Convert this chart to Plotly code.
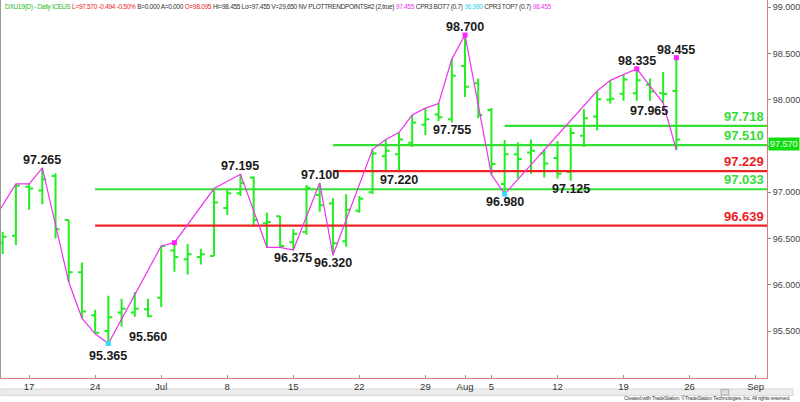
import plotly.graph_objects as go
import pandas as pd

# ---------------- data ----------------
axis_days = [d.strftime("%Y-%m-%d") for d in pd.bdate_range("2019-06-12", "2019-09-03")]
bar_dates = [d.strftime("%Y-%m-%d") for d in pd.bdate_range("2019-06-13", "2019-08-23")]

opens = [96.455, 96.53, 97.06, 97.02, 97.175, 96.70, 96.135, 95.67, 95.50, 95.70,
         95.70, 95.735, 95.86, 96.37, 96.275, 96.30, 96.31, 96.83, 96.99, 97.16,
         96.665, 96.74, 96.46, 96.57, 96.97, 96.88, 96.47, 96.80, 97.00, 97.39,
         97.41, 97.535, 97.73, 97.84, 97.79, 98.365, 98.18, 97.89, 97.09, 97.41,
         97.43, 97.42, 97.37, 97.22, 97.61, 97.82, 98.00, 98.065, 98.07, 98.16,
         98.07, 98.095]
highs = [96.574, 97.09, 97.10, 97.265, 97.205, 96.70, 96.24, 95.73, 95.88, 95.85,
         95.92, 95.85, 96.42, 96.455, 96.44, 96.39, 97.04, 97.025, 97.195, 97.17,
         96.78, 96.74, 96.60, 97.08, 97.10, 96.935, 96.98, 96.96, 97.465, 97.57,
         97.645, 97.835, 97.91, 97.96, 98.44, 98.70, 98.23, 97.91, 97.565, 97.54,
         97.57, 97.465, 97.555, 97.70, 97.90, 98.095, 98.21, 98.27, 98.335, 98.23,
         98.30, 98.455]
lows = [96.333, 96.43, 96.81, 96.87, 96.50, 96.03, 95.64, 95.47, 95.365, 95.545,
        95.655, 95.65, 95.76, 96.14, 96.11, 96.22, 96.31, 96.755, 96.96, 96.64,
        96.405, 96.405, 96.375, 96.54, 96.79, 96.32, 96.41, 96.78, 96.98, 97.24,
        97.22, 97.49, 97.62, 97.77, 97.755, 98.03, 97.80, 97.19, 96.98, 97.15,
        97.20, 97.16, 97.15, 97.125, 97.49, 97.67, 97.96, 97.99, 97.99, 97.99,
        97.965, 97.455]
closes = [96.52, 97.07, 97.04, 97.14, 96.60, 96.135, 95.71, 95.48, 95.65, 95.74,
          95.74, 95.66, 96.42, 96.30, 96.33, 96.33, 96.89, 96.99, 97.10, 96.70,
          96.68, 96.42, 96.55, 97.05, 96.86, 96.45, 96.81, 96.93, 97.42, 97.45,
          97.57, 97.755, 97.79, 97.81, 98.26, 98.14, 97.835, 97.305, 97.41, 97.36,
          97.45, 97.31, 97.20, 97.64, 97.80, 98.005, 98.01, 98.22, 98.21, 98.09,
          98.064, 97.570]

zig_dates = ["2019-06-12", "2019-06-14", "2019-06-17", "2019-06-18", "2019-06-20",
             "2019-06-21", "2019-06-24", "2019-06-25", "2019-07-01", "2019-07-02",
             "2019-07-05", "2019-07-09", "2019-07-11", "2019-07-12", "2019-07-15",
             "2019-07-17", "2019-07-18", "2019-07-23", "2019-07-24", "2019-07-25",
             "2019-07-26", "2019-07-29", "2019-07-30", "2019-07-31", "2019-08-01",
             "2019-08-05", "2019-08-06", "2019-08-15", "2019-08-16", "2019-08-19",
             "2019-08-20", "2019-08-22", "2019-08-23"]
zig_values = [96.63, 97.09, 97.09, 97.265, 96.03, 95.64, 95.47, 95.365, 96.42, 96.455,
              97.04, 97.195, 96.405, 96.405, 96.375, 97.10, 96.32, 97.465, 97.57, 97.645,
              97.835, 97.91, 97.96, 98.44, 98.70, 97.19, 96.98, 98.095, 98.21, 98.27,
              98.335, 97.965, 97.455]

top_dot_dates = ["2019-07-02", "2019-08-01", "2019-08-20", "2019-08-23"]
top_dot_values = [96.455, 98.700, 98.335, 98.455]
bot_dot_dates = ["2019-06-25", "2019-08-06"]
bot_dot_values = [95.365, 96.980]

pivot_label_dates = ["2019-06-18", "2019-06-25", "2019-06-28", "2019-07-09", "2019-07-15",
                     "2019-07-18", "2019-07-17", "2019-07-25", "2019-07-31", "2019-08-01",
                     "2019-08-06", "2019-08-13", "2019-08-20", "2019-08-22", "2019-08-23"]
pivot_label_values = [97.265, 95.365, 95.560, 97.195, 96.375, 96.320, 97.100, 97.220,
                      97.755, 98.700, 96.980, 97.125, 98.335, 97.965, 98.455]
pivot_label_side = ["hi", "lo", "lo", "hi", "lo", "lo", "hi", "lo",
                    "lo", "hi", "lo", "lo", "hi", "lo", "hi"]

level_values = [97.718, 97.510, 97.229, 97.033, 96.639]
level_starts = ["2019-08-06", "2019-07-18", "2019-07-18", "2019-06-24", "2019-06-24"]
level_kind = ["green", "green", "red", "green", "red"]

tick_dates = ["2019-06-17", "2019-06-24", "2019-07-01", "2019-07-08", "2019-07-15",
              "2019-07-22", "2019-07-29", "2019-08-01", "2019-08-05", "2019-08-12",
              "2019-08-19", "2019-08-26", "2019-09-02"]
tick_labels = ["17", "24", "Jul", "8", "15", "22", "29", "Aug", "5", "12", "19", "26", "Sep"]

y_ticks = [95.5, 96.0, 96.5, 97.0, 97.5, 98.0, 98.5, 99.0]
last_price = 97.570

# ---------------- styling ----------------
pos = {d: i for i, d in enumerate(axis_days)}
X_MIN, X_MAX = 0.797, 58.86
Y_MIN, Y_MAX = 94.992, 99.079
BAR_GREEN = "#22ee22"
LVL_COLORS = {"green": "#33e033", "red": "#ee2222"}
LBL_COLORS = {"green": "#33dd33", "red": "#ee1c1c"}
MAGENTA = "#ee33ee"
AXIS_RED = "#e07a7a"
NARROW = "letter-spacing:-0.3px;"

fig = go.Figure()

fig.add_trace(go.Ohlc(
    x=[pos[d] for d in bar_dates], open=opens, high=highs, low=lows, close=closes,
    increasing=dict(line=dict(color=BAR_GREEN, width=2)),
    decreasing=dict(line=dict(color=BAR_GREEN, width=2)),
    tickwidth=0.3, showlegend=False, hoverinfo="skip"))

for v, s, k in zip(level_values, level_starts, level_kind):
    fig.add_trace(go.Scatter(x=[pos[s], X_MAX], y=[v, v], mode="lines",
                             line=dict(color=LVL_COLORS[k], width=2.2),
                             showlegend=False, hoverinfo="skip"))

fig.add_trace(go.Scatter(x=[pos[d] for d in zig_dates], y=zig_values, mode="lines",
                         line=dict(color=MAGENTA, width=1.2), showlegend=False,
                         hoverinfo="skip"))
fig.add_trace(go.Scatter(x=[pos[d] for d in top_dot_dates], y=top_dot_values, mode="markers",
                         marker=dict(color="#ff22ff", size=5, symbol="square"),
                         showlegend=False, hoverinfo="skip"))
fig.add_trace(go.Scatter(x=[pos[d] for d in bot_dot_dates], y=bot_dot_values, mode="markers",
                         marker=dict(color="#33ddff", size=5, symbol="square"),
                         showlegend=False, hoverinfo="skip"))

ann = []
for d, v, side in zip(pivot_label_dates, pivot_label_values, pivot_label_side):
    if side == "hi":
        ys = 8
    else:
        ys = -12 if v < 95.8 else -8
    xs = -14 if d == "2019-08-22" else 0
    ann.append(dict(x=pos[d], y=v, text=f"{v:.3f}", showarrow=False, xref="x", yref="y",
                    yshift=ys, xshift=xs, yanchor="middle",
                    font=dict(family="Arial, Liberation Sans", size=12.5, color="#1a1a1a",
                              weight="bold")))

for v, k in zip(level_values, level_kind):
    ann.append(dict(x=X_MAX, y=v, text=f"{v:.3f}", showarrow=False, xref="x", yref="y",
                    xanchor="right", yanchor="bottom", xshift=-1, yshift=0,
                    font=dict(family="Arial, Liberation Sans", size=13, color=LBL_COLORS[k],
                              weight="bold")))

# last price box on the axis
ann.append(dict(x=1, y=last_price, xref="paper", yref="y", xanchor="left", yanchor="middle",
                text=f"{last_price:.3f}", showarrow=False, bgcolor="#11dd11",
                font=dict(family="Arial, Liberation Sans", size=9, color="#e8ffe8"),
                borderpad=1, xshift=1, yshift=-4))

header = (f"<span style='{NARROW}color:#22bb22'>DXU19(D) - Daily ICEUS</span> "
          f"<span style='{NARROW}color:#ee2222'>L=97.570 -0.494 -0.50%</span> "
          f"<span style='{NARROW}color:#333'>B=0.000 A=0.000</span> "
          f"<span style='{NARROW}color:#ee2222'>O=98.095</span> "
          f"<span style='{NARROW}color:#333'>Hi=98.455 Lo=97.455 V=29,650 NV PLOTTRENDPOINTS#2 (2,true)</span> "
          f"<span style='{NARROW}color:#ee33ee'>97.455</span> "
          f"<span style='{NARROW}color:#333'>CPR3 BOT7 (0.7)</span> "
          f"<span style='{NARROW}color:#33ccee'>96.980</span> "
          f"<span style='{NARROW}color:#333'>CPR3 TOP7 (0.7)</span> "
          f"<span style='{NARROW}color:#ee33ee'>98.455</span>")
ann.append(dict(x=0, y=1, xref="paper", yref="paper", xanchor="left", yanchor="top",
                text=header, showarrow=False, xshift=3, yshift=-1,
                font=dict(family="Liberation Sans, Arial", size=6.5)))

ann.append(dict(x=1, y=0, xref="paper", yref="paper", xanchor="right", yanchor="top",
                yshift=-15, xshift=26, showarrow=False,
                text=("<span style='letter-spacing:-0.35px'>Created with TradeStation. "
                      "©TradeStation Technologies, Inc. All rights reserved.</span>"),
                font=dict(family="Liberation Sans, Arial", size=5.5, color="#444")))

shapes = [
    # left border
    dict(type="line", xref="paper", yref="paper", x0=0, x1=0, y0=0, y1=1,
         line=dict(color="#9a9a9a", width=2)),
    # scrollbar
    dict(type="rect", xref="paper", yref="paper", x0=0, x1=1.034, y0=-0.029, y1=-0.046,
         line=dict(color="#d8d8d8", width=1), fillcolor="#ececec", layer="below"),
    dict(type="rect", xref="paper", yref="paper", x0=0.94, x1=0.95, y0=-0.03, y1=-0.045,
         line=dict(color="#b0b0b0", width=1), fillcolor="#dcdcdc", layer="below"),
]

fig.update_layout(
    width=800, height=402,
    margin=dict(l=0, r=26, t=0, b=24),
    paper_bgcolor="white", plot_bgcolor="white",
    annotations=ann, shapes=shapes, showlegend=False,
    xaxis=dict(range=[X_MIN, X_MAX], rangeslider=dict(visible=False),
               tickmode="array", tickvals=[pos[d] for d in tick_dates], ticktext=tick_labels,
               showgrid=False, zeroline=False, showline=True, linecolor=AXIS_RED, linewidth=1,
               ticks="inside", ticklen=3, tickcolor="#999",
               tickfont=dict(family="Arial, Liberation Sans", size=9.5, color="#333")),
    yaxis=dict(range=[Y_MIN, Y_MAX], side="right", tickmode="array", tickvals=y_ticks,
               ticktext=["" if v == 97.5 else f"{v:.3f}" for v in y_ticks],
               showgrid=False, zeroline=False, showline=True, linecolor=AXIS_RED, linewidth=1,
               ticks="outside", ticklen=3, tickcolor="#888",
               tickfont=dict(family="Arial, Liberation Sans", size=9, color="#444")),
)

fig.write_html("out.html", config={"displayModeBar": False},
               post_script="document.body.style.margin='0';document.body.style.padding='0';")
